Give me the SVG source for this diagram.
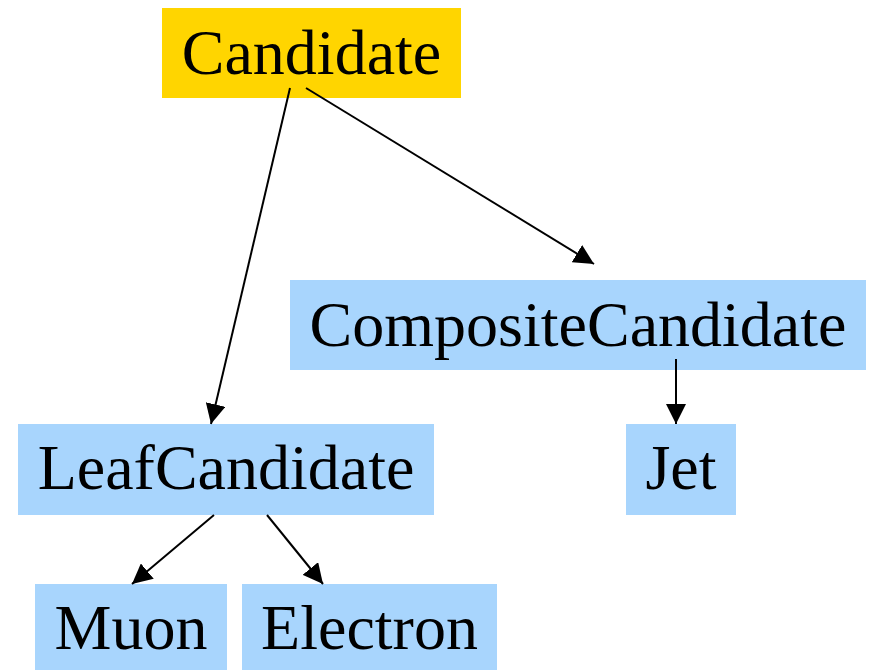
<svg xmlns="http://www.w3.org/2000/svg" width="875" height="670" viewBox="0 0 875 670">
<defs>
<style>
.box{fill:#a8d5fd}
.root{fill:#ffd500}
text{font-family:"Liberation Serif","Times New Roman",serif;font-size:64px;fill:#000;text-anchor:middle}
.edge{stroke:#000;stroke-width:2;fill:none;marker-end:url(#arrow)}
</style>
<marker id="arrow" markerUnits="userSpaceOnUse" markerWidth="20" markerHeight="20" refX="20" refY="10" orient="auto">
<path d="M0,0 L20,10 L0,20 z" fill="#000"/>
</marker>
</defs>
<rect width="875" height="670" fill="#fff"/>
<g id="candidate"><rect class="root" x="162" y="8" width="299" height="90"/><text x="311.5" y="74">Candidate</text></g>
<g id="composite"><rect class="box" x="290" y="280" width="576" height="90"/><text x="578" y="346">CompositeCandidate</text></g>
<g id="leaf"><rect class="box" x="18" y="424" width="416" height="91"/><text x="226" y="489">LeafCandidate</text></g>
<g id="jet"><rect class="box" x="626" y="424" width="110" height="91"/><text x="681" y="489">Jet</text></g>
<g id="muon"><rect class="box" x="35" y="584" width="192" height="86"/><text x="131" y="649">Muon</text></g>
<g id="electron"><rect class="box" x="242" y="584" width="255" height="86"/><text x="369.5" y="649">Electron</text></g>
<g id="edges">
<line class="edge" x1="290" y1="88" x2="211" y2="424"/>
<line class="edge" x1="306" y1="88" x2="594" y2="264"/>
<line class="edge" x1="676" y1="359" x2="676" y2="424"/>
<line class="edge" x1="214" y1="515" x2="132" y2="584"/>
<line class="edge" x1="267" y1="515" x2="323" y2="584"/>
</g>
</svg>
